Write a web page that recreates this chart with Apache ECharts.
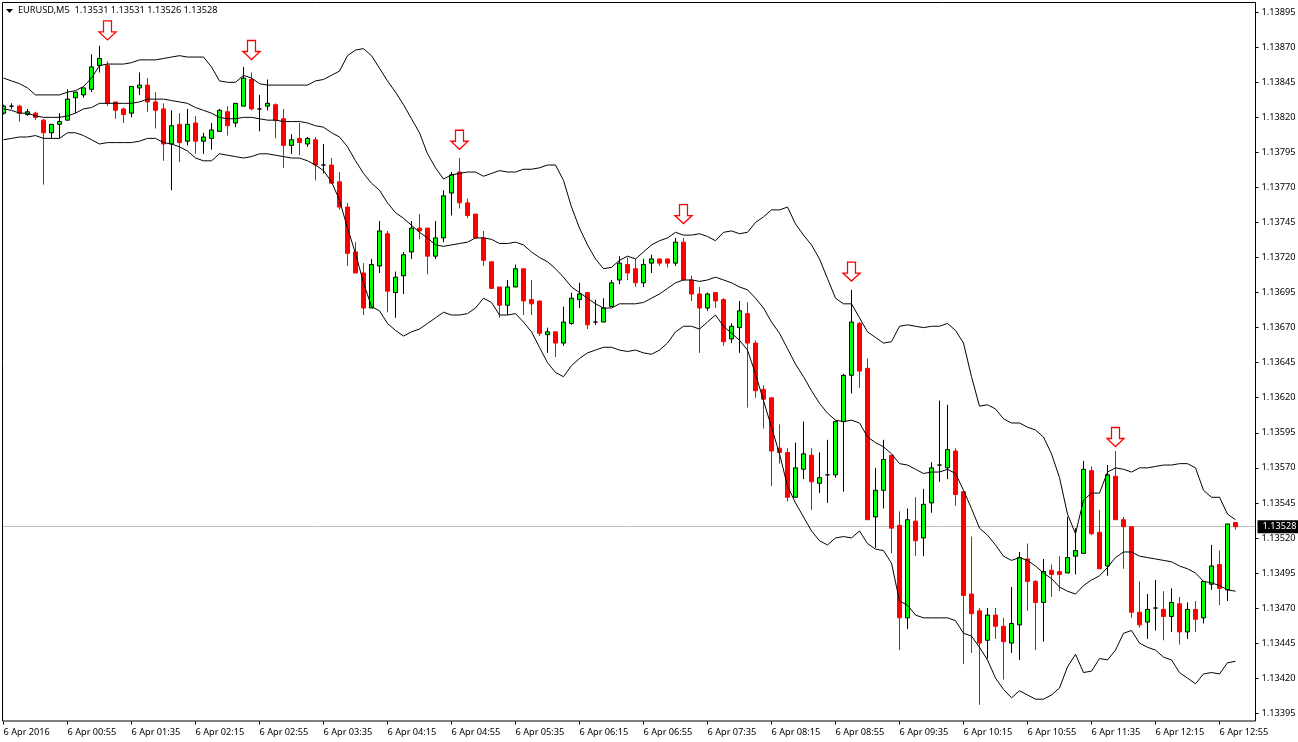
<!DOCTYPE html>
<html>
<head>
<meta charset="utf-8">
<script src="https://cdn.jsdelivr.net/npm/echarts@6/dist/echarts.min.js"></script>
<style>html,body{margin:0;padding:0;background:#fff}#c{width:1298px;height:742px}</style>
</head>
<body>
<div id="c"></div>
<script>
// All prices are stored as points above 1.13000 (1 point = 0.00001)
const base = 1.13;
const open = [
823,828,828,822,823,818,809,815,818,834,
836,840,857,857,831,826,823,841,843,831,
826,801,815,803,816,803,805,810,824,816,
828,847,826,828,829,819,800,805,801,804,
786,786,774,756,724,709,684,714,737,695,
707,724,741,741,721,734,766,781,759,751,
734,717,699,686,699,712,690,689,665,667,
659,673,690,695,674,674,685,704,715,712,
702,716,719,719,716,731,704,694,684,695,
690,662,670,680,659,626,620,584,581,549,
569,579,559,565,565,603,636,673,641,535,
554,579,529,463,532,520,545,572,570,582,
553,480,468,447,465,457,445,458,505,489,
474,497,496,495,507,509,568,524,500,564,
533,528,467,460,470,469,464,473,453,469,
463,487,501,483,531];
const high = [
829,830,829,826,824,819,815,823,840,838,
841,865,871,860,831,827,842,852,848,838,
830,825,823,826,821,809,816,826,828,830,
856,852,836,847,830,826,808,816,806,806,
801,791,781,759,731,716,719,746,739,710,
724,746,751,741,746,768,781,791,762,751,
739,717,699,704,715,712,704,689,670,667,
685,695,702,695,690,691,704,721,720,719,
719,722,719,719,734,734,707,699,695,695,
691,673,689,688,661,629,620,601,584,588,
603,584,581,590,603,637,697,674,648,570,
590,579,539,541,549,555,574,618,615,584,
553,521,470,470,470,463,485,510,516,490,
505,501,507,535,527,575,571,540,572,582,
535,528,489,480,490,482,484,478,474,475,
489,515,511,530,531];
const low = [
822,826,817,821,818,772,805,805,818,823,
834,838,852,828,819,816,820,836,824,812,
789,768,788,800,794,794,797,810,807,813,
828,825,810,825,805,784,794,793,799,775,
780,773,754,714,709,679,684,709,681,677,
694,719,733,708,719,731,750,755,748,734,
714,698,677,679,699,679,679,664,652,649,
657,672,684,669,672,674,685,701,704,699,
699,709,714,713,714,704,689,652,682,684,
657,659,652,613,620,598,557,573,546,549,
562,540,552,545,563,553,623,627,533,513,
541,509,440,455,507,507,538,560,562,543,
430,438,401,434,448,419,438,433,468,440,
446,478,482,495,494,509,522,498,493,533,
498,463,456,448,454,447,453,444,448,453,
459,483,472,475,526];
const close = [
828,828,823,824,820,809,815,817,833,838,
841,856,862,830,825,822,842,843,831,825,
801,814,802,815,803,806,811,825,814,830,
848,826,826,830,818,800,804,802,805,786,
786,773,756,723,709,684,715,739,696,706,
722,741,739,721,734,764,779,759,750,734,
718,698,686,699,712,689,687,666,667,659,
674,691,694,672,674,684,702,716,709,702,
715,719,716,716,731,704,694,684,694,689,
660,671,682,659,625,619,582,581,549,570,
580,560,563,565,603,636,674,639,533,554,
576,527,463,533,518,544,570,572,583,551,
479,466,445,465,457,446,459,506,489,474,
496,494,494,506,511,569,523,498,565,533,
528,467,458,469,470,464,474,453,469,462,
489,500,484,530,528];
const upper = [
848,846,844,841,836,836,836,836,838,839,
842,848,857,858,858,858,859,861,861,861,
862,863,864,863,863,863,856,846,845,845,
850,848,844,843,843,843,843,843,843,846,
847,850,853,864,868,869,864,855,846,838,
829,819,809,794,784,776,779,780,781,781,
778,780,782,781,781,783,783,784,786,786,
775,756,741,729,719,712,713,718,721,719,
724,729,732,734,738,736,736,737,735,732,
738,739,737,738,745,749,754,754,756,744,
736,729,719,705,691,687,687,677,667,663,
659,660,671,672,671,670,671,671,673,668,
659,635,614,615,612,605,602,602,599,597,
592,580,563,537,523,547,552,552,567,570,
569,567,570,570,571,572,572,573,573,570,
554,549,549,537,533];
const middle = [
826,825,823,823,821,820,820,820,821,823,
826,827,830,830,830,830,830,831,833,833,
833,832,831,830,827,825,823,820,819,819,
820,820,819,818,818,817,817,817,816,814,
813,809,806,799,789,780,773,768,759,752,
748,743,738,734,729,728,729,730,731,734,
734,733,730,730,731,729,724,720,717,712,
706,699,695,691,687,684,684,687,687,687,
688,691,694,698,702,704,704,703,704,706,
704,702,699,697,691,684,674,666,655,644,
635,625,616,609,604,603,604,602,592,588,
585,580,573,572,569,566,567,567,569,566,
554,541,527,522,515,507,504,506,504,500,
495,491,485,482,480,486,490,493,499,506,
510,510,507,506,505,504,503,500,498,495,
489,488,486,483,482];
const lower = [
804,805,806,806,807,805,805,805,809,809,
807,804,801,802,802,802,802,803,805,805,
802,801,799,796,791,789,789,794,793,792,
791,792,794,794,793,792,791,791,789,786,
782,774,761,741,723,702,685,682,673,668,
664,667,669,673,677,681,679,679,680,684,
691,688,679,679,680,674,667,656,645,638,
635,643,648,652,654,656,656,654,653,654,
652,651,654,659,667,671,671,669,674,679,
671,666,661,654,637,618,599,580,557,545,
535,525,518,515,520,521,520,525,516,512,
511,502,475,472,465,463,463,463,463,461,
452,450,442,433,420,412,406,411,408,405,
405,408,413,428,437,424,425,434,433,440,
452,454,445,442,440,435,433,424,420,416,
423,424,423,431,432];
// bar index and price of each down-arrow marker
const arrowBars = [13,31,57,85,106,139];
const arrowPoints = [882,868,804,751,710,592];
const timeTicks = ['6 Apr 2016','6 Apr 00:55','6 Apr 01:35','6 Apr 02:15','6 Apr 02:55','6 Apr 03:35','6 Apr 04:15','6 Apr 04:55','6 Apr 05:35','6 Apr 06:15','6 Apr 06:55','6 Apr 07:35','6 Apr 08:15','6 Apr 08:55','6 Apr 09:35','6 Apr 10:15','6 Apr 10:55','6 Apr 11:35','6 Apr 12:15','6 Apr 12:55'];
const priceTicks = [1.13395,1.1342,1.13445,1.1347,1.13495,1.1352,1.13545,1.1357,1.13595,1.1362,1.13645,1.1367,1.13695,1.1372,1.13745,1.1377,1.13795,1.1382,1.13845,1.1387,1.13895];
const symbolName = 'EURUSD,M5';
const currentPoints = 528;

const px = p => +(base + p / 1e5).toFixed(5);
const font = '"Noto Sans", "Open Sans", sans-serif';
const axisFontSize = 9.2;
const barsPerTick = 8;
const priceMin = 1.1338908, priceMax = 1.1390156;
const categories = Array.from({length: 157}, (_, i) => i % barsPerTick === 0 ? (timeTicks[i / barsPerTick] || '') : '');
const last = open.length - 1;
const candles = open.map((o, i) => [px(o), px(close[i]), px(low[i]), px(high[i])]);
const arrowPath = 'path://M4.5,0 L12.5,0 L12.5,11 L17,11 L8.5,19 L0,11 L4.5,11 Z';
const band = (name, arr) => ({
  name, type: 'line', data: arr.map(px), showSymbol: false, symbol: 'none', smooth: false, z: 5,
  lineStyle: {color: '#000', width: 1}, silent: true, animation: false
});

const chart = echarts.init(document.getElementById('c'), null, {renderer: 'canvas'});
chart.setOption({
  animation: false,
  backgroundColor: '#fff',
  title: {
    text: symbolName + '  ' + [open[last], high[last], low[last], close[last]].map(v => px(v).toFixed(5)).join(' '),
    left: 13, top: 0.5,
    textStyle: {fontFamily: font, fontSize: axisFontSize, fontWeight: 'normal', color: '#000'}
  },
  grid: {left: -0.5, right: 42.5, top: 3, bottom: 20.5, containLabel: false, outerBoundsMode: 'none'},
  xAxis: {
    type: 'category', data: categories, boundaryGap: true,
    axisLine: {show: false},
    axisTick: {show: true, alignWithLabel: true, interval: barsPerTick - 1, length: 3, lineStyle: {color: '#000'}},
    axisLabel: {show: true, interval: barsPerTick - 1, align: 'left', margin: 6, color: '#000', fontFamily: font, fontSize: axisFontSize, hideOverlap: false},
    splitLine: {show: false}
  },
  yAxis: [{
    type: 'value', position: 'right', min: priceMin, max: priceMax,
    axisLine: {show: false},
    axisTick: {show: true, length: 3, lineStyle: {color: '#000'}, customValues: priceTicks},
    axisLabel: {show: true, margin: 6, padding: [1, 0, 0, 0], color: '#000', fontFamily: font, fontSize: axisFontSize, customValues: priceTicks, formatter: v => v.toFixed(5)},
    splitLine: {show: false}
  }, {
    // overlay axis carrying the current-price line and its tag
    type: 'value', position: 'right', min: priceMin, max: priceMax,
    axisLine: {show: false},
    axisTick: {show: false, customValues: [px(currentPoints)]},
    axisLabel: {show: true, margin: 2, color: '#fff', backgroundColor: '#000', padding: [2, 3, 2, 5], fontFamily: font, fontSize: axisFontSize,
      customValues: [px(currentPoints)], formatter: v => v.toFixed(5)},
    splitLine: {show: true, lineStyle: {color: '#c0c0c0', width: 1, type: 'solid'}}
  }],
  series: [
    {
      name: 'EURUSD', type: 'candlestick', data: candles, barWidth: 4, z: 3, silent: true,
      itemStyle: {color: '#00ff00', color0: '#ff0000', borderColor: '#000', borderColor0: '#ff0000', borderColorDoji: '#000', borderWidth: 1}
    },
    band('upper', upper), band('middle', middle), band('lower', lower),
    {
      name: 'arrows', type: 'scatter', z: 6, silent: true, symbol: arrowPath, symbolSize: [17, 19],
      itemStyle: {color: '#fff', borderColor: '#ff0000', borderWidth: 1.3, opacity: 1},
      data: arrowBars.map((b, i) => [b, px(arrowPoints[i])])
    }
  ],
  graphic: [
    {type: 'rect', z: 100, silent: true, shape: {x: 0, y: 0, width: 2, height: 742}, style: {fill: '#fff'}},
    {type: 'rect', z: 101, silent: true, shape: {x: 2.5, y: 2.5, width: 1253, height: 718.5}, style: {fill: 'none', stroke: '#000', lineWidth: 1}},
    {type: 'polygon', z: 101, silent: true, shape: {points: [[6, 9], [13, 9], [9.5, 13]]}, style: {fill: '#000'}}
  ]
});
</script>
</body>
</html>
